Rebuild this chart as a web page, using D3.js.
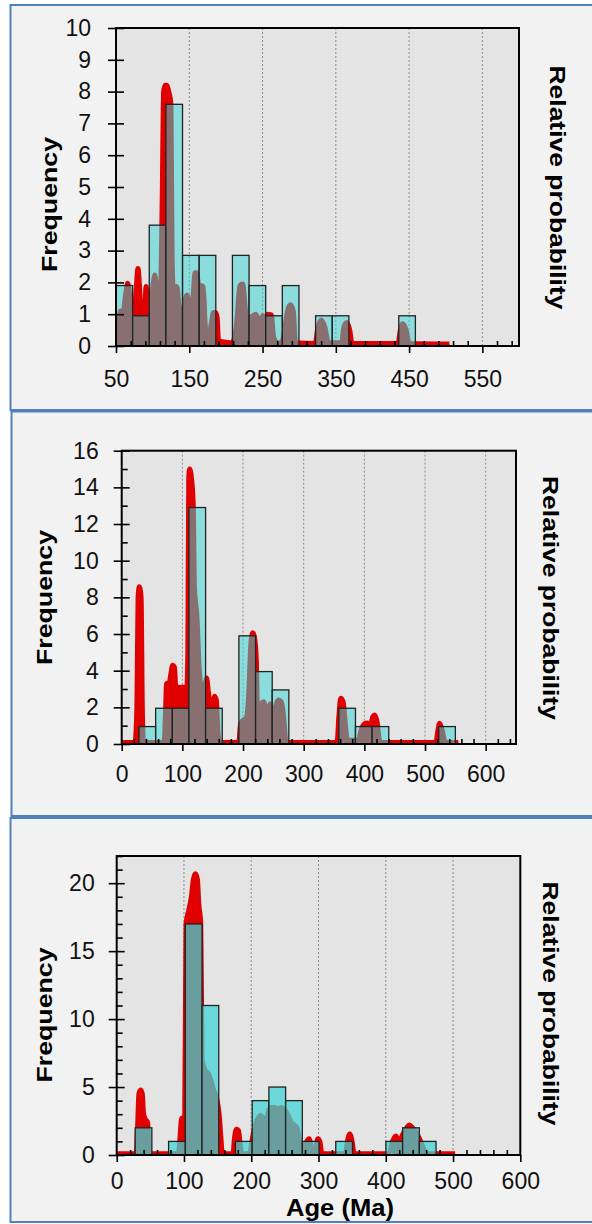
<!DOCTYPE html>
<html>
<head>
<meta charset="utf-8">
<script src="https://cdn.jsdelivr.net/npm/d3@7"></script>
<style>
body{margin:0;background:#fff}
text{font-family:"Liberation Sans",Arial,sans-serif}
</style>
</head>
<body>
<script>
// ---- panel 1 (top) ----
const p1XTicks = [50,150,250,350,450,550]
const p1YTicks = [0,1,2,3,4,5,6,7,8,9,10]
const p1BinLeft = [50,72.7,95.4,118.1,140.8,163.5,186.2,208.9,231.6,254.3,277,299.7,322.4,345.1,367.8,390.5,413.2,435.9,458.6]
const p1BinWidth = 22.7
const p1Counts = [1.9,0.95,3.8,7.6,2.85,2.85,0,2.85,1.9,0.95,1.9,0,0.95,0.95,0,0,0,0.95,0]
const p1Prob = [[50,0.3],[53,0.6],[56,1.1],[60,1.1],[63,1.6],[66,1.97],[69,1.5],[71,0.8],[74,0.9],[77,1.6],[80,2.44],[83,1.5],[86,0.5],[88,0.3],[91,1.87],[94,1.0],[97,1.0],[100,1.8],[103,2.23],[106,1.6],[108,1.3],[111,1.9],[113,4.5],[115,8.0],[117,8.2],[119,8.2],[122,8.0],[125,7.6],[126.5,3],[128,1.87],[133,1.87],[136,1.2],[139,0.4],[142,1.1],[147,1.6],[150,1.2],[152,0.9],[155,1.5],[158,2.3],[160,2.3],[163,1.9],[166,1.9],[169,1.87],[172,0.6],[176,0.2],[180,0.7],[183,1.05],[186,1.05],[188,0.9],[190,0.15],[200,0.12],[208,0.1],[211,0.2],[215,0.8],[219,1.9],[223,1.95],[226,1.3],[229,0.7],[232,0.9],[237,0.95],[241,1.0],[246,0.7],[250,0.95],[254,0.9],[257,1.0],[262,0.98],[265,0.3],[270,0.1],[276,0.1],[280,0.5],[284,1.1],[288,1.3],[292,1.1],[295,0.1],[322,0.08],[325,0.5],[330,0.82],[335,0.6],[340,0.1],[358,0.1],[361,0.6],[365,0.74],[369,0.5],[372,0.08],[435,0.08],[438,0.5],[441,0.7],[446,0.5],[450,0.08],[505,0.06]]

// ---- panel 2 (middle) ----
const p2XTicks = [0,100,200,300,400,500,600]
const p2YTicks = [0,2,4,6,8,10,12,14,16]
const p2BinLeft = [28.5,55.95,83.4,110.85,138.3,165.75,193.2,220.65,248.1,275.55,303,330.45,357.9,385.35,412.8,440.25,467.7,495.15,522.6]
const p2BinWidth = 27.45
const p2Counts = [0.95,1.95,1.95,12.9,1.95,0,5.9,3.95,2.95,0,0,0,1.95,0.95,0.95,0,0,0,0.95]
const p2Prob = [[0,0.08],[22,0.08],[25,2],[27,8.0],[29,8.58],[32,8.0],[34,2],[36,0.08],[70,0.1],[72,1.5],[74,3.3],[78,3.3],[81,3.8],[84,4.3],[87,4.2],[89,3.2],[93,3.1],[98,3.1],[103,3.1],[107,2.8],[109,5],[110.5,14.5],[112,15.0],[115,14.5],[118,13],[120,8.5],[124,7.0],[128,4.0],[132,3.0],[137,3.2],[140,3.6],[143,2.8],[146,2.0],[150,2.2],[153,2.6],[156,2.4],[159,0.5],[162,0.08],[193,0.1],[196,1.1],[200,1.3],[205,1.4],[209,2.5],[213,5.5],[216,6.07],[219,5.8],[222,4.5],[224,1.5],[227,1.0],[230,2.2],[234,2.3],[237,1.8],[240,0.4],[242,1.9],[245,2.2],[248,1.8],[251,1.5],[255,2.2],[259,2.4],[263,2.3],[267,1.5],[270,0.3],[273,0.08],[355,0.08],[358,1.5],[361,2.5],[365,2.3],[369,1.0],[372,0.2],[390,0.2],[395,0.8],[400,1.1],[405,1.15],[410,1.0],[414,1.5],[417,1.58],[421,1.2],[425,0.2],[428,0.08],[518,0.08],[521,0.7],[524,1.13],[528,0.8],[532,0.2],[535,0.08],[555,0.08]]

// ---- panel 3 (bottom) ----
const p3XTicks = [0,100,200,300,400,500,600]
const p3YTicks = [0,5,10,15,20]
const p3BinLeft = [2.6,27.45,52.3,77.15,102,126.85,151.7,176.55,201.4,226.25,251.1,275.95,300.8,325.65,350.5,375.35,400.2,425.05,449.9]
const p3BinWidth = 24.85
const p3Counts = [0,2,0,1,17,11,0,1,4,5,4,1,0,1,0,0,1,2,1]
const p3Prob = [[0,0.1],[29,0.1],[31,2],[33,4.5],[35.6,4.79],[38,4.5],[40,3],[43,2.6],[46,2.4],[48,0.5],[50,0.1],[92,0.1],[94,1.2],[96.5,2.7],[99,2.7],[101,2.2],[103,17],[107,18],[111,19],[114,20.3],[117,20.7],[120,20.3],[122,18.5],[125,17],[127,7],[131,6.3],[136,6.0],[140,5.5],[144,4.8],[148,4.3],[151,3.5],[153,2.6],[155,1.2],[157,0.1],[173,0.1],[175,1.2],[178,1.9],[181,1.8],[184,0.6],[186,0.1],[198,0.1],[201,1.0],[205,2.0],[209,2.6],[214,2.9],[218,2.7],[222,2.4],[226,3.3],[230,3.5],[235,3.5],[240,3.4],[245,3.5],[250,3.3],[255,2.9],[259,2.4],[264,2.2],[268,2.0],[272,1.0],[276,0.6],[280,0.8],[286,1.2],[290,0.5],[295,0.3],[299,1.2],[302,1.0],[305,0.1],[340,0.1],[343,1.0],[346.5,1.55],[350,1.0],[353,0.1],[405,0.1],[410,1.0],[415,1.4],[420,1.0],[425,1.5],[431,2.0],[435,2.2],[440,2.0],[446,1.6],[451,1.1],[456,0.5],[460,0.1],[503,0.1]]

const w = 592, h = 1224
const red = "#e00000"

let panels = [
  {box:[10.5,5,600,405], xDomain:[50,600], xRange:[116,519], yDomain:[0,10], yRange:[346,28],
   xTicks:p1XTicks, yTicks:p1YTicks, xMinor:d3.range(70,600,20), yMinor:[],
   bins:p1BinLeft, binWidth:p1BinWidth, counts:p1Counts, prob:p1Prob,
   barFill:"rgb(58,214,214)", barOpacity:0.52, xPad:17.7, yPad:17,
   freq:[57,204.5], rel:[550,187.5]},
  {box:[11.5,411.5,600,404.5], xDomain:[0,650], xRange:[121.7,516], yDomain:[0,16], yRange:[744,450.7],
   xTicks:p2XTicks, yTicks:p2YTicks, xMinor:d3.range(20,650,20), yMinor:d3.range(1,16,2),
   bins:p2BinLeft, binWidth:p2BinWidth, counts:p2Counts, prob:p2Prob,
   barFill:"rgb(58,214,214)", barOpacity:0.52, xPad:14.7, yPad:15,
   freq:[52,597.5], rel:[543,598]},
  {box:[10.5,818,600,404], xDomain:[0,600], xRange:[116.7,520.3], yDomain:[0,22], yRange:[1155,856],
   xTicks:p3XTicks, yTicks:p3YTicks, xMinor:d3.range(20,600,20), yMinor:d3.range(1,23).filter(v=>v%5!==0),
   bins:p3BinLeft, binWidth:p3BinWidth, counts:p3Counts, prob:p3Prob,
   barFill:"rgb(65,213,213)", barOpacity:0.74, xPad:10.7, yPad:14,
   freq:[52,1015], rel:[543,1003.5], ageLabel:[340,1216]}
]

let svg = d3.select("body").append("svg")
    .attr("width", w)
    .attr("height", h)
    .style("display","block")

svg.append("rect").attr("width", w).attr("height", h).attr("fill", "#fff")

panels.forEach((p, i) => {
    let x = d3.scaleLinear().domain(p.xDomain).range(p.xRange)
    let y = d3.scaleLinear().domain(p.yDomain).range(p.yRange)
    let g = svg.append("g")

    // outer frame
    g.append("rect")
        .attr("x", p.box[0]).attr("y", p.box[1])
        .attr("width", p.box[2]).attr("height", p.box[3])
        .attr("fill", "#f2f2f2")
        .attr("stroke", "#4f81bd")
        .attr("stroke-width", 2)

    let px0 = p.xRange[0], px1 = p.xRange[1], py0 = p.yRange[1], py1 = p.yRange[0]

    g.append("rect")
        .attr("x", px0).attr("y", py0)
        .attr("width", px1 - px0).attr("height", py1 - py0)
        .attr("fill", "#e4e4e4")

    let clipId = "clip" + i
    svg.append("clipPath").attr("id", clipId)
        .append("rect")
        .attr("x", px0).attr("y", py0)
        .attr("width", px1 - px0).attr("height", py1 - py0)

    // dashed grid
    g.append("g").selectAll("line")
        .data(p.xTicks.filter(t => t > p.xDomain[0] && t < p.xDomain[1]))
        .enter().append("line")
        .attr("x1", d => x(d)).attr("x2", d => x(d))
        .attr("y1", py0).attr("y2", py1)
        .attr("stroke", "#8a8a8a")
        .attr("stroke-width", 1)
        .attr("stroke-dasharray", "2,2")

    let inner = g.append("g").attr("clip-path", "url(#" + clipId + ")")

    // probability curve
    inner.append("path")
        .datum(p.prob)
        .attr("d", d3.area().x(d => x(d[0])).y0(y(0)).y1(d => y(d[1])).curve(d3.curveMonotoneX))
        .attr("fill", red)
    inner.append("path")
        .datum(p.prob)
        .attr("d", d3.line().x(d => x(d[0])).y(d => y(d[1])).curve(d3.curveMonotoneX))
        .attr("fill", "none")
        .attr("stroke", red)
        .attr("stroke-width", 5)
        .attr("stroke-linejoin", "round")

    // histogram
    let bars = p.bins.map((b, k) => ({x0: b, x1: b + p.binWidth, n: p.counts[k]})).filter(d => d.n > 0)
    inner.append("g").selectAll("rect")
        .data(bars)
        .enter().append("rect")
        .attr("x", d => x(d.x0))
        .attr("y", d => y(d.n))
        .attr("width", d => x(d.x1) - x(d.x0))
        .attr("height", d => y(0) - y(d.n))
        .attr("fill", p.barFill)
        .attr("fill-opacity", p.barOpacity)
        .attr("stroke", "#222")
        .attr("stroke-width", 1.3)

    // axes
    let xAxis = g.append("g").attr("transform", "translate(0," + py1 + ")")
        .call(d3.axisBottom(x).tickValues(p.xTicks).tickSize(7).tickPadding(p.xPad).tickSizeOuter(0))
    xAxis.append("g")
        .call(d3.axisBottom(x).tickValues(p.xMinor.filter(t => !p.xTicks.includes(t))).tickSize(-5).tickFormat("").tickSizeOuter(0))
    let yAxis = g.append("g").attr("transform", "translate(" + px0 + ",0)")
        .call(d3.axisLeft(y).tickValues(p.yTicks).tickSize(8).tickPadding(p.yPad).tickSizeOuter(0))
    yAxis.append("g")
        .call(d3.axisLeft(y).tickValues(p.yTicks).tickSize(-8).tickFormat("").tickSizeOuter(0))
    yAxis.append("g")
        .call(d3.axisLeft(y).tickValues(p.yMinor).tickSize(-6).tickFormat("").tickSizeOuter(0))

    g.selectAll(".domain").remove()
    g.selectAll(".tick line").attr("stroke", "#000").attr("stroke-width", 1.6)
    g.selectAll(".tick text").attr("font-size", 23).attr("fill", "#111")
        .style("font-family", '"Liberation Sans", Arial, sans-serif')

    // plot frame
    g.append("rect")
        .attr("x", px0).attr("y", py0)
        .attr("width", px1 - px0).attr("height", py1 - py0)
        .attr("fill", "none")
        .attr("stroke", "#000")
        .attr("stroke-width", 2)

    // titles
    g.append("text")
        .attr("transform", "translate(" + p.freq[0] + "," + p.freq[1] + ") rotate(-90)")
        .attr("text-anchor", "middle")
        .attr("font-size", 22)
        .attr("font-weight", "bold")
        .attr("textLength", 135)
        .attr("lengthAdjust", "spacingAndGlyphs")
        .text("Frequency")
    g.append("text")
        .attr("transform", "translate(" + p.rel[0] + "," + p.rel[1] + ") rotate(90)")
        .attr("text-anchor", "middle")
        .attr("font-size", 22)
        .attr("font-weight", "bold")
        .attr("textLength", 244)
        .attr("lengthAdjust", "spacingAndGlyphs")
        .text("Relative probability")
    if (p.ageLabel) {
        g.append("text")
            .attr("x", p.ageLabel[0]).attr("y", p.ageLabel[1])
            .attr("text-anchor", "middle")
            .attr("font-size", 24)
            .attr("font-weight", "bold")
            .attr("textLength", 108)
            .attr("lengthAdjust", "spacingAndGlyphs")
            .text("Age (Ma)")
    }
})
</script>
</body>
</html>
